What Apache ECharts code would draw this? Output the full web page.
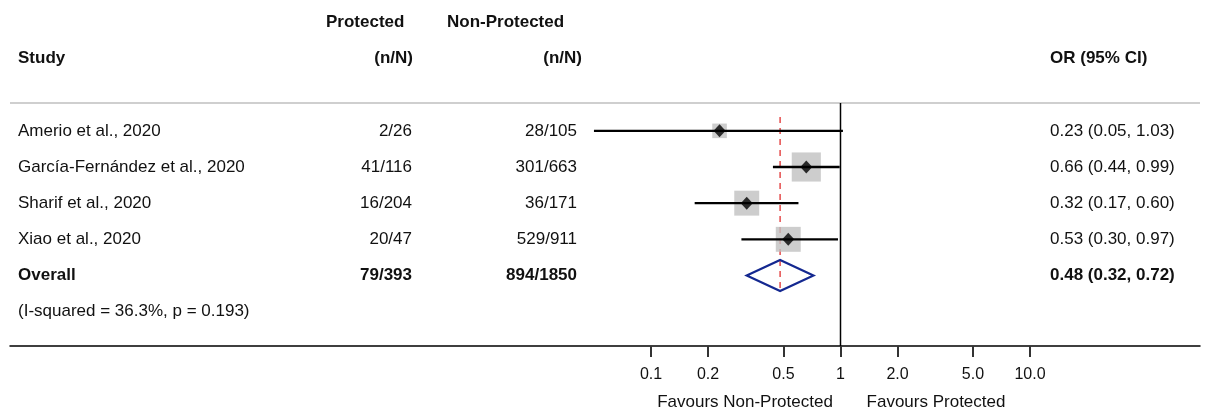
<!DOCTYPE html>
<html>
<head>
<meta charset="utf-8">
<script src="https://cdn.jsdelivr.net/npm/echarts@6/dist/echarts.min.js"></script>
<style>
  html, body { margin: 0; padding: 0; background: #fff; }
  #chart { width: 1210px; height: 411px; }
</style>
</head>
<body>
<div id="chart"></div>
<script>
// ---------------- data ----------------
const studies = ['Amerio et al., 2020', 'García-Fernández et al., 2020', 'Sharif et al., 2020', 'Xiao et al., 2020'];
const protectedCounts = ['2/26', '41/116', '16/204', '20/47'];
const nonProtectedCounts = ['28/105', '301/663', '36/171', '529/911'];
const oddsRatios = [0.23, 0.66, 0.32, 0.53];
const ciLower = [0.05, 0.44, 0.17, 0.30];
const ciUpper = [1.03, 0.99, 0.60, 0.97];
const studyWeights = [9.2, 36.8, 27.0, 27.0];
const orLabels = ['0.23 (0.05, 1.03)', '0.66 (0.44, 0.99)', '0.32 (0.17, 0.60)', '0.53 (0.30, 0.97)'];

const overallLabel = 'Overall';
const overallProtected = '79/393';
const overallNonProtected = '894/1850';
const overallOR = 0.48;
const overallLower = 0.32;
const overallUpper = 0.72;
const overallText = '0.48 (0.32, 0.72)';
const heterogeneityText = '(I-squared = 36.3%, p = 0.193)';

const tickValues = [0.1, 0.2, 0.5, 1, 2, 5, 10];
const tickLabels = ['0.1', '0.2', '0.5', '1', '2.0', '5.0', '10.0'];
const favoursLeft = 'Favours Non-Protected';
const favoursRight = 'Favours Protected';

// ---------------- layout ----------------
const FONT = '"Liberation Sans", Arial, sans-serif';
const TXT = '#111';
const gridLeft = 10, gridRight = 1200, gridTop = 103, gridBottom = 346;
const px01 = 651, decade = 189.5;
const xMin = Math.pow(10, -1 - (px01 - gridLeft) / decade);
const xMax = Math.pow(10, -1 + (gridRight - px01) / decade);
const yMin = -0.77, yMax = 5.95;
const overallRow = studies.length;
const hetRow = studies.length + 1;

// text cells: x in pixel-axis units, row in y-axis units
const cells = [];
function cell(x, row, text, align, bold) { cells.push({ x, row, text, align, bold }); }
cell(326, -3, 'Protected', 'left', true);
cell(447, -3, 'Non-Protected', 'left', true);
cell(18, -2, 'Study', 'left', true);
cell(413, -2, '(n/N)', 'right', true);
cell(582, -2, '(n/N)', 'right', true);
cell(1050, -2, 'OR (95% CI)', 'left', true);
studies.forEach((s, i) => {
  cell(18, i, s, 'left', false);
  cell(412, i, protectedCounts[i], 'right', false);
  cell(577, i, nonProtectedCounts[i], 'right', false);
  cell(1050, i, orLabels[i], 'left', false);
});
cell(18, overallRow, overallLabel, 'left', true);
cell(412, overallRow, overallProtected, 'right', true);
cell(577, overallRow, overallNonProtected, 'right', true);
cell(1050, overallRow, overallText, 'left', true);
cell(18, hetRow, heterogeneityText, 'left', false);
cell(745, 7.52, favoursLeft, 'center', false);
cell(936, 7.52, favoursRight, 'center', false);

const chart = echarts.init(document.getElementById('chart'), null, { renderer: 'canvas' });

function lineItem(p1, p2, style) {
  return { type: 'line', shape: { x1: p1[0], y1: p1[1], x2: p2[0], y2: p2[1] }, style };
}

const option = {
  backgroundColor: '#fff',
  animation: false,
  grid: { left: gridLeft, right: 1210 - gridRight, top: gridTop, bottom: 411 - gridBottom, containLabel: false },
  xAxis: [
    {
      type: 'log', logBase: 10, min: xMin, max: xMax,
      axisLine: { show: true, onZero: false, lineStyle: { color: '#000', width: 1.5 } },
      axisTick: { show: true, customValues: tickValues, length: 11, lineStyle: { color: '#333', width: 2 } },
      axisLabel: {
        show: true, customValues: tickValues, margin: 21,
        fontFamily: FONT, fontSize: 16, color: TXT,
        formatter: v => { const i = tickValues.findIndex(t => Math.abs(t - v) < 1e-9); return i >= 0 ? tickLabels[i] : ''; }
      },
      splitLine: { show: false }, minorTick: { show: false }
    },
    { type: 'value', min: gridLeft, max: gridRight, show: false, gridIndex: 0 }
  ],
  yAxis: { type: 'value', inverse: true, min: yMin, max: yMax, show: false },
  graphic: [
    { type: 'line', shape: { x1: gridLeft, y1: gridTop, x2: gridRight, y2: gridTop }, style: { stroke: '#cfcfcf', lineWidth: 2 }, z: 1 }
  ],
  series: [
    // null line at OR = 1
    {
      type: 'custom', xAxisIndex: 0, z: 2,
      data: [[1, yMin, yMax]],
      renderItem: (p, api) => lineItem(api.coord([api.value(0), api.value(1)]), api.coord([api.value(0), api.value(2)]), { stroke: '#000', lineWidth: 1.5 })
    },
    // overall effect dashed line
    {
      type: 'custom', xAxisIndex: 0, z: 2,
      data: [[overallOR, -0.38, overallRow + 0.45]],
      renderItem: (p, api) => lineItem(api.coord([api.value(0), api.value(1)]), api.coord([api.value(0), api.value(2)]), { stroke: '#e03030', lineWidth: 1.3, lineDash: [6, 5] })
    },
    // weight boxes
    {
      type: 'scatter', xAxisIndex: 0, z: 3, symbol: 'rect',
      data: oddsRatios.map((v, i) => [v, i, studyWeights[i]]),
      symbolSize: val => Math.sqrt(val[2]) * 4.8,
      itemStyle: { color: '#c0c0c0' }
    },
    // confidence intervals
    {
      type: 'custom', xAxisIndex: 0, z: 4,
      data: ciLower.map((lo, i) => [lo, i, ciUpper[i]]),
      renderItem: (p, api) => lineItem(api.coord([api.value(0), api.value(1)]), api.coord([api.value(2), api.value(1)]), { stroke: '#000', lineWidth: 2.4 })
    },
    // point estimates
    {
      type: 'scatter', xAxisIndex: 0, z: 5, symbol: 'diamond', symbolSize: [12, 13],
      data: oddsRatios.map((v, i) => [v, i]),
      itemStyle: { color: '#000' }
    },
    // overall diamond
    {
      type: 'custom', xAxisIndex: 0, z: 5,
      data: [[overallLower, overallRow, overallUpper, overallOR]],
      renderItem: (p, api) => {
        const r = api.value(1);
        const a = api.coord([api.value(0), r]);
        const b = api.coord([api.value(3), r - 0.43]);
        const c = api.coord([api.value(2), r]);
        const d = api.coord([api.value(3), r + 0.43]);
        return { type: 'polygon', shape: { points: [a, b, c, d] }, style: { fill: 'none', stroke: '#142890', lineWidth: 2.2 } };
      }
    },
    // text table
    {
      type: 'custom', xAxisIndex: 1, z: 6, clip: false,
      data: cells.map(c => [c.x, c.row]),
      renderItem: (p, api) => {
        const c = cells[p.dataIndex];
        const pt = api.coord([api.value(0), api.value(1)]);
        return {
          type: 'text', x: pt[0], y: pt[1],
          style: {
            text: c.text, fill: TXT, align: c.align, verticalAlign: 'middle',
            font: (c.bold ? 'bold ' : '') + '17px ' + FONT
          }
        };
      }
    }
  ]
};
chart.setOption(option);
</script>
</body>
</html>
